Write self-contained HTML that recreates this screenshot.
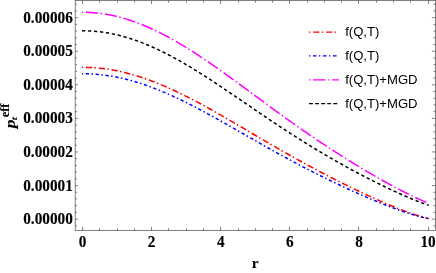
<!DOCTYPE html>
<html><head><meta charset="utf-8"><title>plot</title>
<style>
html,body{margin:0;padding:0;background:#fff;}
svg{display:block;will-change:transform;}
.tk{font-family:"Liberation Serif","DejaVu Serif",serif;font-weight:bold;font-size:15.3px;fill:#000;stroke:#000;stroke-width:0.12px;}
.lg{font-family:"Liberation Sans","DejaVu Sans",sans-serif;font-size:13.1px;fill:#000;}
</style></head><body>
<svg width="436" height="273" viewBox="0 0 436 273">
<rect x="0" y="0" width="436" height="273" fill="#fff"/>
<g stroke="#555" stroke-width="0.75" fill="none">
<rect x="75.2" y="0.5" width="360.3" height="230.0"/>
<path d="M82.50,230.5v-3.6M82.50,0.5v3.6M99.50,230.5v-2.2M99.50,0.5v2.2M117.50,230.5v-2.2M117.50,0.5v2.2M134.50,230.5v-2.2M134.50,0.5v2.2M151.50,230.5v-3.6M151.50,0.5v3.6M168.50,230.5v-2.2M168.50,0.5v2.2M186.50,230.5v-2.2M186.50,0.5v2.2M203.50,230.5v-2.2M203.50,0.5v2.2M220.50,230.5v-3.6M220.50,0.5v3.6M238.50,230.5v-2.2M238.50,0.5v2.2M255.50,230.5v-2.2M255.50,0.5v2.2M272.50,230.5v-2.2M272.50,0.5v2.2M289.50,230.5v-3.6M289.50,0.5v3.6M307.50,230.5v-2.2M307.50,0.5v2.2M324.50,230.5v-2.2M324.50,0.5v2.2M341.50,230.5v-2.2M341.50,0.5v2.2M358.50,230.5v-3.6M358.50,0.5v3.6M376.50,230.5v-2.2M376.50,0.5v2.2M393.50,230.5v-2.2M393.50,0.5v2.2M410.50,230.5v-2.2M410.50,0.5v2.2M428.50,230.5v-3.6M428.50,0.5v3.6M75.2,225.81h1.85M435.5,225.81h-2.2M75.2,219.10h2.75M435.5,219.10h-3.6M75.2,212.39h1.85M435.5,212.39h-2.2M75.2,205.67h1.85M435.5,205.67h-2.2M75.2,198.96h1.85M435.5,198.96h-2.2M75.2,192.24h1.85M435.5,192.24h-2.2M75.2,185.53h2.75M435.5,185.53h-3.6M75.2,178.82h1.85M435.5,178.82h-2.2M75.2,172.10h1.85M435.5,172.10h-2.2M75.2,165.39h1.85M435.5,165.39h-2.2M75.2,158.67h1.85M435.5,158.67h-2.2M75.2,151.96h2.75M435.5,151.96h-3.6M75.2,145.25h1.85M435.5,145.25h-2.2M75.2,138.53h1.85M435.5,138.53h-2.2M75.2,131.82h1.85M435.5,131.82h-2.2M75.2,125.10h1.85M435.5,125.10h-2.2M75.2,118.39h2.75M435.5,118.39h-3.6M75.2,111.68h1.85M435.5,111.68h-2.2M75.2,104.96h1.85M435.5,104.96h-2.2M75.2,98.25h1.85M435.5,98.25h-2.2M75.2,91.53h1.85M435.5,91.53h-2.2M75.2,84.82h2.75M435.5,84.82h-3.6M75.2,78.11h1.85M435.5,78.11h-2.2M75.2,71.39h1.85M435.5,71.39h-2.2M75.2,64.68h1.85M435.5,64.68h-2.2M75.2,57.96h1.85M435.5,57.96h-2.2M75.2,51.25h2.75M435.5,51.25h-3.6M75.2,44.54h1.85M435.5,44.54h-2.2M75.2,37.82h1.85M435.5,37.82h-2.2M75.2,31.11h1.85M435.5,31.11h-2.2M75.2,24.39h1.85M435.5,24.39h-2.2M75.2,17.68h2.75M435.5,17.68h-3.6M75.2,10.97h1.85M435.5,10.97h-2.2M75.2,4.25h1.85M435.5,4.25h-2.2"/>
</g>
<g fill="none" stroke-width="1.5" stroke-linecap="butt">
<path stroke="#ff0000" stroke-dasharray="1.5 2.85 6.2 2.35" stroke-dashoffset="0.45" d="M82.00,67.30 L82.50,67.30 L84.23,67.31 L85.96,67.34 L87.68,67.38 L89.41,67.44 L91.14,67.52 L92.87,67.62 L94.60,67.74 L96.32,67.87 L98.05,68.02 L99.78,68.19 L101.51,68.38 L103.24,68.58 L104.96,68.80 L106.69,69.04 L108.42,69.30 L110.15,69.57 L111.88,69.86 L113.60,70.17 L115.33,70.49 L117.06,70.83 L118.79,71.19 L120.52,71.56 L122.24,71.95 L123.97,72.36 L125.70,72.78 L127.43,73.22 L129.16,73.67 L130.88,74.14 L132.61,74.63 L134.34,75.13 L136.07,75.65 L137.80,76.18 L139.52,76.72 L141.25,77.28 L142.98,77.86 L144.71,78.45 L146.44,79.05 L148.16,79.67 L149.89,80.30 L151.62,80.95 L153.35,81.60 L155.08,82.27 L156.80,82.96 L158.53,83.65 L160.26,84.36 L161.99,85.08 L163.72,85.82 L165.44,86.56 L167.17,87.32 L168.90,88.08 L170.63,88.86 L172.36,89.65 L174.08,90.45 L175.81,91.26 L177.54,92.08 L179.27,92.91 L181.00,93.75 L182.72,94.60 L184.45,95.45 L186.18,96.32 L187.91,97.19 L189.64,98.08 L191.36,98.97 L193.09,99.86 L194.82,100.77 L196.55,101.68 L198.28,102.60 L200.00,103.53 L201.73,104.46 L203.46,105.40 L205.19,106.35 L206.92,107.30 L208.64,108.26 L210.37,109.22 L212.10,110.18 L213.83,111.16 L215.56,112.13 L217.28,113.11 L219.01,114.10 L220.74,115.08 L222.47,116.07 L224.20,117.07 L225.92,118.07 L227.65,119.07 L229.38,120.07 L231.11,121.07 L232.84,122.08 L234.56,123.09 L236.29,124.10 L238.02,125.11 L239.75,126.13 L241.48,127.14 L243.20,128.15 L244.93,129.17 L246.66,130.19 L248.39,131.20 L250.12,132.22 L251.84,133.24 L253.57,134.25 L255.30,135.27 L257.03,136.28 L258.76,137.30 L260.48,138.31 L262.21,139.32 L263.94,140.33 L265.67,141.34 L267.40,142.35 L269.12,143.35 L270.85,144.36 L272.58,145.36 L274.31,146.36 L276.04,147.35 L277.76,148.35 L279.49,149.34 L281.22,150.33 L282.95,151.32 L284.68,152.30 L286.40,153.29 L288.13,154.26 L289.86,155.24 L291.59,156.21 L293.32,157.18 L295.04,158.15 L296.77,159.11 L298.50,160.07 L300.23,161.03 L301.96,161.98 L303.68,162.93 L305.41,163.87 L307.14,164.82 L308.87,165.75 L310.60,166.69 L312.32,167.62 L314.05,168.55 L315.78,169.47 L317.51,170.39 L319.24,171.31 L320.96,172.22 L322.69,173.13 L324.42,174.03 L326.15,174.93 L327.88,175.83 L329.60,176.72 L331.33,177.61 L333.06,178.50 L334.79,179.38 L336.52,180.26 L338.24,181.13 L339.97,182.00 L341.70,182.87 L343.43,183.73 L345.16,184.58 L346.88,185.44 L348.61,186.29 L350.34,187.13 L352.07,187.98 L353.80,188.81 L355.52,189.65 L357.25,190.48 L358.98,191.30 L360.71,192.12 L362.44,192.94 L364.16,193.75 L365.89,194.55 L367.62,195.36 L369.35,196.15 L371.08,196.95 L372.80,197.73 L374.53,198.52 L376.26,199.29 L377.99,200.06 L379.72,200.83 L381.44,201.59 L383.17,202.34 L384.90,203.09 L386.63,203.83 L388.36,204.56 L390.08,205.28 L391.81,206.00 L393.54,206.71 L395.27,207.41 L397.00,208.11 L398.72,208.79 L400.45,209.46 L402.18,210.13 L403.91,210.78 L405.64,211.42 L407.36,212.05 L409.09,212.67 L410.82,213.28 L412.55,213.87 L414.28,214.45 L416.00,215.01 L417.73,215.56 L419.46,216.09 L421.19,216.60 L422.92,217.09 L424.64,217.57 L426.37,218.02 L428.10,218.46 L428.83,218.64"/>
<path stroke="#0000ff" stroke-dasharray="1.5 2.66 3.3 2.46" stroke-dashoffset="0.45" d="M82.00,73.68 L82.50,73.68 L84.23,73.69 L85.96,73.71 L87.68,73.76 L89.41,73.82 L91.14,73.90 L92.87,74.00 L94.60,74.11 L96.32,74.25 L98.05,74.40 L99.78,74.57 L101.51,74.75 L103.24,74.96 L104.96,75.18 L106.69,75.42 L108.42,75.67 L110.15,75.94 L111.88,76.23 L113.60,76.54 L115.33,76.86 L117.06,77.20 L118.79,77.56 L120.52,77.93 L122.24,78.32 L123.97,78.73 L125.70,79.15 L127.43,79.59 L129.16,80.04 L130.88,80.51 L132.61,80.99 L134.34,81.49 L136.07,82.01 L137.80,82.53 L139.52,83.08 L141.25,83.64 L142.98,84.21 L144.71,84.80 L146.44,85.40 L148.16,86.01 L149.89,86.64 L151.62,87.28 L153.35,87.93 L155.08,88.60 L156.80,89.28 L158.53,89.97 L160.26,90.68 L161.99,91.39 L163.72,92.12 L165.44,92.86 L167.17,93.61 L168.90,94.37 L170.63,95.14 L172.36,95.92 L174.08,96.72 L175.81,97.52 L177.54,98.33 L179.27,99.15 L181.00,99.98 L182.72,100.82 L184.45,101.67 L186.18,102.53 L187.91,103.39 L189.64,104.26 L191.36,105.14 L193.09,106.03 L194.82,106.92 L196.55,107.82 L198.28,108.73 L200.00,109.65 L201.73,110.57 L203.46,111.49 L205.19,112.42 L206.92,113.36 L208.64,114.30 L210.37,115.25 L212.10,116.20 L213.83,117.15 L215.56,118.11 L217.28,119.07 L219.01,120.03 L220.74,121.00 L222.47,121.97 L224.20,122.95 L225.92,123.93 L227.65,124.90 L229.38,125.88 L231.11,126.87 L232.84,127.85 L234.56,128.84 L236.29,129.82 L238.02,130.81 L239.75,131.80 L241.48,132.78 L243.20,133.77 L244.93,134.76 L246.66,135.75 L248.39,136.74 L250.12,137.72 L251.84,138.71 L253.57,139.69 L255.30,140.68 L257.03,141.66 L258.76,142.64 L260.48,143.62 L262.21,144.60 L263.94,145.58 L265.67,146.55 L267.40,147.52 L269.12,148.49 L270.85,149.46 L272.58,150.42 L274.31,151.39 L276.04,152.34 L277.76,153.30 L279.49,154.25 L281.22,155.20 L282.95,156.15 L284.68,157.09 L286.40,158.03 L288.13,158.97 L289.86,159.90 L291.59,160.83 L293.32,161.76 L295.04,162.68 L296.77,163.60 L298.50,164.51 L300.23,165.42 L301.96,166.33 L303.68,167.23 L305.41,168.13 L307.14,169.02 L308.87,169.91 L310.60,170.79 L312.32,171.68 L314.05,172.55 L315.78,173.43 L317.51,174.30 L319.24,175.16 L320.96,176.02 L322.69,176.88 L324.42,177.73 L326.15,178.58 L327.88,179.42 L329.60,180.26 L331.33,181.10 L333.06,181.93 L334.79,182.76 L336.52,183.58 L338.24,184.40 L339.97,185.21 L341.70,186.03 L343.43,186.83 L345.16,187.63 L346.88,188.43 L348.61,189.23 L350.34,190.01 L352.07,190.80 L353.80,191.58 L355.52,192.36 L357.25,193.13 L358.98,193.90 L360.71,194.66 L362.44,195.42 L364.16,196.17 L365.89,196.92 L367.62,197.66 L369.35,198.40 L371.08,199.14 L372.80,199.86 L374.53,200.59 L376.26,201.30 L377.99,202.02 L379.72,202.72 L381.44,203.42 L383.17,204.11 L384.90,204.80 L386.63,205.48 L388.36,206.15 L390.08,206.82 L391.81,207.47 L393.54,208.12 L395.27,208.76 L397.00,209.39 L398.72,210.01 L400.45,210.62 L402.18,211.22 L403.91,211.81 L405.64,212.39 L407.36,212.96 L409.09,213.51 L410.82,214.05 L412.55,214.57 L414.28,215.08 L416.00,215.58 L417.73,216.05 L419.46,216.51 L421.19,216.95 L422.92,217.38 L424.64,217.78 L426.37,218.16 L428.10,218.51 L428.83,218.67"/>
<path stroke="#ff00ff" stroke-dasharray="1.5 2.8 12.19 2.6" stroke-dashoffset="0.45" d="M82.00,12.25 L82.50,12.25 L84.23,12.26 L85.96,12.30 L87.68,12.35 L89.41,12.43 L91.14,12.52 L92.87,12.64 L94.60,12.78 L96.32,12.94 L98.05,13.12 L99.78,13.33 L101.51,13.55 L103.24,13.80 L104.96,14.06 L106.69,14.35 L108.42,14.66 L110.15,14.99 L111.88,15.34 L113.60,15.71 L115.33,16.10 L117.06,16.51 L118.79,16.95 L120.52,17.40 L122.24,17.87 L123.97,18.36 L125.70,18.87 L127.43,19.40 L129.16,19.95 L130.88,20.52 L132.61,21.11 L134.34,21.71 L136.07,22.34 L137.80,22.98 L139.52,23.64 L141.25,24.32 L142.98,25.02 L144.71,25.73 L146.44,26.47 L148.16,27.22 L149.89,27.98 L151.62,28.76 L153.35,29.56 L155.08,30.38 L156.80,31.21 L158.53,32.06 L160.26,32.92 L161.99,33.80 L163.72,34.69 L165.44,35.60 L167.17,36.52 L168.90,37.45 L170.63,38.40 L172.36,39.37 L174.08,40.34 L175.81,41.33 L177.54,42.33 L179.27,43.35 L181.00,44.37 L182.72,45.41 L184.45,46.46 L186.18,47.52 L187.91,48.59 L189.64,49.68 L191.36,50.77 L193.09,51.87 L194.82,52.99 L196.55,54.11 L198.28,55.24 L200.00,56.38 L201.73,57.53 L203.46,58.69 L205.19,59.86 L206.92,61.03 L208.64,62.21 L210.37,63.40 L212.10,64.59 L213.83,65.79 L215.56,67.00 L217.28,68.21 L219.01,69.43 L220.74,70.66 L222.47,71.89 L224.20,73.12 L225.92,74.36 L227.65,75.60 L229.38,76.85 L231.11,78.10 L232.84,79.35 L234.56,80.61 L236.29,81.87 L238.02,83.13 L239.75,84.40 L241.48,85.66 L243.20,86.93 L244.93,88.20 L246.66,89.47 L248.39,90.75 L250.12,92.02 L251.84,93.29 L253.57,94.57 L255.30,95.84 L257.03,97.12 L258.76,98.39 L260.48,99.66 L262.21,100.93 L263.94,102.20 L265.67,103.47 L267.40,104.74 L269.12,106.01 L270.85,107.28 L272.58,108.54 L274.31,109.80 L276.04,111.06 L277.76,112.31 L279.49,113.57 L281.22,114.82 L282.95,116.07 L284.68,117.31 L286.40,118.55 L288.13,119.79 L289.86,121.03 L291.59,122.26 L293.32,123.49 L295.04,124.71 L296.77,125.93 L298.50,127.15 L300.23,128.36 L301.96,129.56 L303.68,130.77 L305.41,131.97 L307.14,133.16 L308.87,134.35 L310.60,135.54 L312.32,136.72 L314.05,137.89 L315.78,139.06 L317.51,140.23 L319.24,141.39 L320.96,142.55 L322.69,143.70 L324.42,144.85 L326.15,145.99 L327.88,147.12 L329.60,148.26 L331.33,149.38 L333.06,150.50 L334.79,151.62 L336.52,152.73 L338.24,153.84 L339.97,154.94 L341.70,156.03 L343.43,157.12 L345.16,158.21 L346.88,159.29 L348.61,160.37 L350.34,161.44 L352.07,162.50 L353.80,163.56 L355.52,164.62 L357.25,165.66 L358.98,166.71 L360.71,167.75 L362.44,168.78 L364.16,169.81 L365.89,170.83 L367.62,171.85 L369.35,172.86 L371.08,173.87 L372.80,174.87 L374.53,175.87 L376.26,176.86 L377.99,177.84 L379.72,178.82 L381.44,179.80 L383.17,180.76 L384.90,181.73 L386.63,182.68 L388.36,183.63 L390.08,184.57 L391.81,185.51 L393.54,186.44 L395.27,187.36 L397.00,188.27 L398.72,189.18 L400.45,190.08 L402.18,190.97 L403.91,191.85 L405.64,192.73 L407.36,193.59 L409.09,194.45 L410.82,195.30 L412.55,196.13 L414.28,196.96 L416.00,197.77 L417.73,198.57 L419.46,199.37 L421.19,200.14 L422.92,200.91 L424.64,201.66 L426.37,202.40 L428.10,203.12 L428.79,203.41"/>
<path stroke="#000000" stroke-dasharray="3.3 2.7" d="M82.00,30.77 L82.50,30.77 L84.23,30.78 L85.96,30.81 L87.68,30.86 L89.41,30.94 L91.14,31.03 L92.87,31.14 L94.60,31.28 L96.32,31.44 L98.05,31.61 L99.78,31.81 L101.51,32.03 L103.24,32.26 L104.96,32.52 L106.69,32.80 L108.42,33.10 L110.15,33.42 L111.88,33.76 L113.60,34.11 L115.33,34.49 L117.06,34.89 L118.79,35.31 L120.52,35.74 L122.24,36.20 L123.97,36.67 L125.70,37.17 L127.43,37.68 L129.16,38.21 L130.88,38.76 L132.61,39.32 L134.34,39.91 L136.07,40.51 L137.80,41.13 L139.52,41.77 L141.25,42.42 L142.98,43.09 L144.71,43.78 L146.44,44.49 L148.16,45.21 L149.89,45.94 L151.62,46.70 L153.35,47.46 L155.08,48.25 L156.80,49.04 L158.53,49.86 L160.26,50.69 L161.99,51.53 L163.72,52.38 L165.44,53.25 L167.17,54.13 L168.90,55.03 L170.63,55.94 L172.36,56.86 L174.08,57.79 L175.81,58.74 L177.54,59.69 L179.27,60.66 L181.00,61.64 L182.72,62.63 L184.45,63.63 L186.18,64.64 L187.91,65.66 L189.64,66.70 L191.36,67.73 L193.09,68.78 L194.82,69.84 L196.55,70.91 L198.28,71.98 L200.00,73.06 L201.73,74.15 L203.46,75.25 L205.19,76.35 L206.92,77.46 L208.64,78.58 L210.37,79.70 L212.10,80.83 L213.83,81.96 L215.56,83.10 L217.28,84.24 L219.01,85.39 L220.74,86.54 L222.47,87.69 L224.20,88.85 L225.92,90.01 L227.65,91.18 L229.38,92.35 L231.11,93.52 L232.84,94.69 L234.56,95.86 L236.29,97.04 L238.02,98.21 L239.75,99.39 L241.48,100.57 L243.20,101.75 L244.93,102.93 L246.66,104.11 L248.39,105.29 L250.12,106.47 L251.84,107.65 L253.57,108.83 L255.30,110.01 L257.03,111.18 L258.76,112.36 L260.48,113.53 L262.21,114.70 L263.94,115.87 L265.67,117.04 L267.40,118.20 L269.12,119.36 L270.85,120.52 L272.58,121.68 L274.31,122.83 L276.04,123.98 L277.76,125.13 L279.49,126.27 L281.22,127.41 L282.95,128.54 L284.68,129.67 L286.40,130.80 L288.13,131.92 L289.86,133.04 L291.59,134.16 L293.32,135.26 L295.04,136.37 L296.77,137.47 L298.50,138.57 L300.23,139.66 L301.96,140.74 L303.68,141.82 L305.41,142.90 L307.14,143.97 L308.87,145.03 L310.60,146.09 L312.32,147.15 L314.05,148.20 L315.78,149.24 L317.51,150.28 L319.24,151.32 L320.96,152.35 L322.69,153.37 L324.42,154.39 L326.15,155.40 L327.88,156.41 L329.60,157.41 L331.33,158.41 L333.06,159.40 L334.79,160.39 L336.52,161.37 L338.24,162.35 L339.97,163.32 L341.70,164.28 L343.43,165.24 L345.16,166.20 L346.88,167.15 L348.61,168.10 L350.34,169.04 L352.07,169.97 L353.80,170.90 L355.52,171.83 L357.25,172.75 L358.98,173.66 L360.71,174.57 L362.44,175.48 L364.16,176.38 L365.89,177.27 L367.62,178.16 L369.35,179.04 L371.08,179.92 L372.80,180.80 L374.53,181.67 L376.26,182.53 L377.99,183.39 L379.72,184.24 L381.44,185.09 L383.17,185.93 L384.90,186.77 L386.63,187.60 L388.36,188.42 L390.08,189.24 L391.81,190.05 L393.54,190.86 L395.27,191.66 L397.00,192.45 L398.72,193.23 L400.45,194.01 L402.18,194.78 L403.91,195.54 L405.64,196.29 L407.36,197.04 L409.09,197.77 L410.82,198.49 L412.55,199.21 L414.28,199.91 L416.00,200.60 L417.73,201.28 L419.46,201.95 L421.19,202.61 L422.92,203.25 L424.64,203.88 L426.37,204.49 L428.10,205.09 L428.81,205.33"/>
</g>
<text class="tk" transform="translate(72.9,224.10) scale(1,1.04)" text-anchor="end">0.00000</text>
<text class="tk" transform="translate(72.9,190.53) scale(1,1.04)" text-anchor="end">0.00001</text>
<text class="tk" transform="translate(72.9,156.96) scale(1,1.04)" text-anchor="end">0.00002</text>
<text class="tk" transform="translate(72.9,123.39) scale(1,1.04)" text-anchor="end">0.00003</text>
<text class="tk" transform="translate(72.9,89.82) scale(1,1.04)" text-anchor="end">0.00004</text>
<text class="tk" transform="translate(72.9,56.25) scale(1,1.04)" text-anchor="end">0.00005</text>
<text class="tk" transform="translate(72.9,22.68) scale(1,1.04)" text-anchor="end">0.00006</text>
<text class="tk" transform="translate(82.50,247) scale(1,1.04)" text-anchor="middle">0</text>
<text class="tk" transform="translate(151.62,247) scale(1,1.04)" text-anchor="middle">2</text>
<text class="tk" transform="translate(220.74,247) scale(1,1.04)" text-anchor="middle">4</text>
<text class="tk" transform="translate(289.86,247) scale(1,1.04)" text-anchor="middle">6</text>
<text class="tk" transform="translate(358.98,247) scale(1,1.04)" text-anchor="middle">8</text>
<text class="tk" transform="translate(428.10,247) scale(1,1.04)" text-anchor="middle">10</text>
<text class="tk" x="255.2" y="268.4" text-anchor="middle">r</text>
<g transform="translate(15.0,128.35) rotate(-90)"><text class="tk" x="0" y="0" font-style="italic" transform="scale(1.14,0.93)">p</text><text class="tk" x="0" y="0" font-style="italic" style="font-size:10.5px;font-weight:normal;stroke-width:0.25px" transform="translate(8.2,1.7) scale(1.15,0.85)">t</text><text class="tk" x="0" y="0" style="font-size:10.5px" transform="translate(11.15,-6.35) scale(1.17,1.15)">eff</text></g>
<g fill="none" stroke-width="1.3" stroke-linecap="butt">
<path stroke="#ff0000" stroke-dasharray="1.4 3.0 6.2 2.3" d="M308.8,32.05H339"/>
<path stroke="#0000ff" stroke-dasharray="1.3 2.6 3.7 2.4" d="M309,55.95H339"/>
<path stroke="#ff00ff" stroke-dasharray="1.4 2.5 12.8 2.4 1.3 2.8 7 9" d="M309,79.95H339"/>
<path stroke="#000000" stroke-dasharray="3.9 2.18" d="M309,103.7H339"/>
</g>
<text class="lg" x="345.2" y="36.20">f(Q,T)</text>
<text class="lg" x="345.2" y="60.00">f(Q,T)</text>
<text class="lg" x="345.2" y="83.80">f(Q,T)+MGD</text>
<text class="lg" x="345.2" y="107.60">f(Q,T)+MGD</text>
</svg>
</body></html>
